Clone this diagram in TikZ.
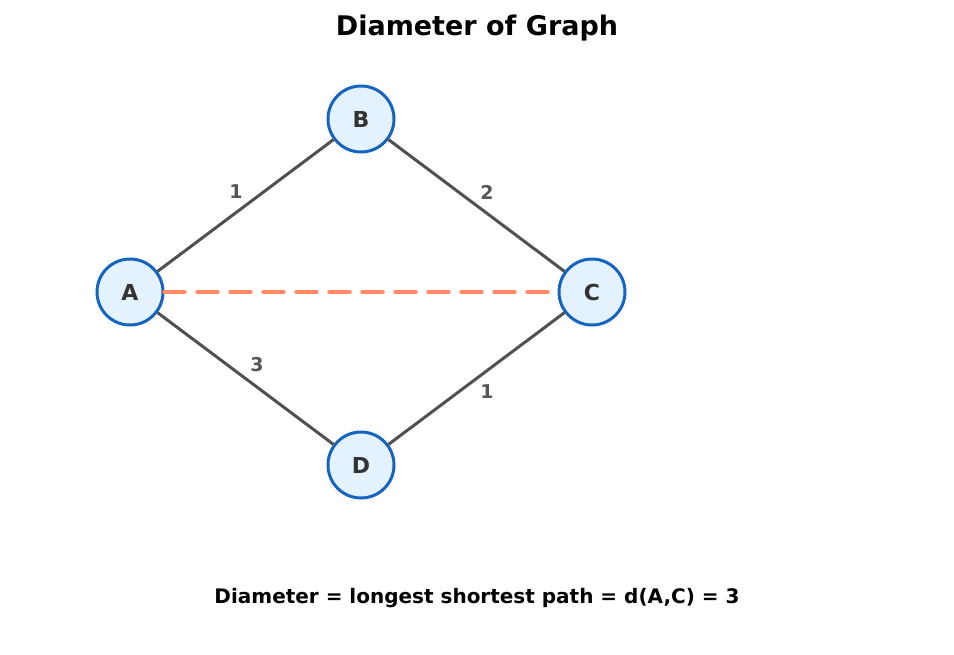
\documentclass[tikz,border=0pt]{standalone}
\usepackage{fontspec}
\setmainfont{DejaVu Sans}
\definecolor{nodeblue}{HTML}{1565C0}
\definecolor{nodefill}{HTML}{E3F2FD}
\definecolor{edgegray}{HTML}{505050}
\definecolor{pathorange}{HTML}{FF8A65}
\definecolor{labelgray}{HTML}{555555}
\tikzset{
  vertex/.style={circle,draw=nodeblue,fill=nodefill,line width=3pt,minimum size=66pt,inner sep=0pt,font=\fontsize{22}{24}\selectfont\bfseries,text=black!80},
  edge/.style={draw=edgegray,line width=3pt},
  weight/.style={font=\fontsize{19}{21}\selectfont\bfseries,text=labelgray},
  diam/.style={draw=pathorange,line width=4.5pt,line cap=round,dash pattern=on 20pt off 13pt}
}
\begin{document}
\begin{tikzpicture}[x=1pt,y=-1pt]
\useasboundingbox (0,0) rectangle (954,654);

\node[font=\fontsize{27}{30}\selectfont\bfseries] (title) at (477,28) {Diameter of Graph};

\node[vertex] (A) at (130,292) {A};
\node[vertex] (B) at (361,119) {B};
\node[vertex] (C) at (592,292) {C};
\node[vertex] (D) at (361,465) {D};

\draw[diam] (A) -- (C);
\draw[edge] (A) -- (B);
\draw[edge] (B) -- (C);
\draw[edge] (A) -- (D);
\draw[edge] (D) -- (C);

\node[weight] (wAB) at (236,192) {1};
\node[weight] (wBC) at (487,192) {2};
\node[weight] (wAD) at (257,365) {3};
\node[weight] (wDC) at (487,392) {1};

\node[font=\fontsize{20}{22}\selectfont\bfseries] (caption) at (477,598) {Diameter = longest shortest path = d(A,C) = 3};
\end{tikzpicture}
\end{document}
